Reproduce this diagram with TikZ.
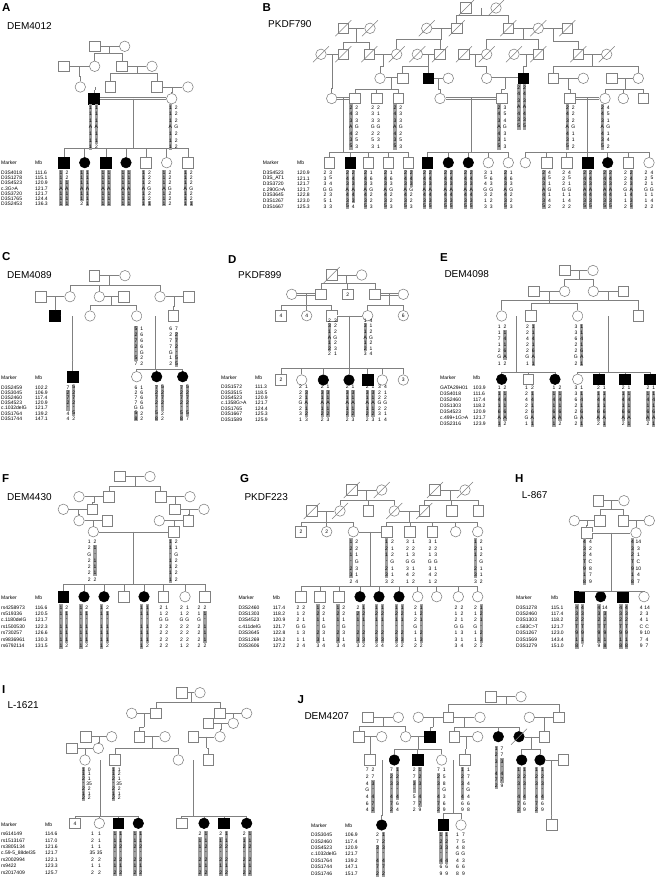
\documentclass[tikz,border=0pt]{standalone}
\usepackage{fontspec}
\setmainfont{Liberation Sans}
\usetikzlibrary{calc}

\definecolor{lc}{gray}{0.5}
\definecolor{hapbar}{gray}{0.62}
\newcommand\hfont{\fontsize{5}{5}\selectfont}

\tikzset{
  male/.style={draw=lc, line width=0.55pt, fill=white, rectangle, minimum size=10.5pt, inner sep=0pt, font=\hfont},
  female/.style={male, circle},
  amale/.style={male, fill=black, draw=black},
  afemale/.style={female, fill=black, draw=black},
  ln/.style={draw=lc, line width=0.55pt},
  dbl/.style={ln, double=white, double distance=1.3pt},
  hapt/.style={font=\hfont, inner sep=0pt},
  mkt/.style={font=\hfont, anchor=west, inner sep=0pt},
  ptitle/.style={font=\bfseries\fontsize{11.5}{12}\selectfont, anchor=north west, inner sep=0pt},
  pname/.style={font=\fontsize{10}{11}\selectfont, anchor=west, inner sep=0pt}
}

% haplotype column: x, y0, row step, first/last shaded row, values
\newcount\hapn
\newcount\hapi
\def\hg{2.9}
\makeatletter
\newcommand\hcol[6]{%
  \ifnum#4>0 \fill[hapbar] ({#1-1.7},{#2+(#4-1.5)*#3}) rectangle ({#1+1.7},{#2+(#5-0.5)*#3});\fi
  \global\advance\hapn by 1
  \hapi=0
  \@tfor\hv:=#6\do{\advance\hapi by 1
    \node[hapt] (h\the\hapn-\the\hapi) at ({#1},{#2+(\the\hapi-1)*#3}) {\hv};}%
}
\makeatother
\newcommand\hp[8]{\hcol{#1-\hg}{#2}{\hdy}{#3}{#4}{#5}\hcol{#1+\hg}{#2}{\hdy}{#6}{#7}{#8}}

% marker table: id, x, y0, step, Mb offset, list
\newcommand\mk[6]{%
  \node[mkt] (#1mh) at (#2,#3-9.5) {Marker};
  \node[mkt] (#1bh) at (#2+#5,#3-9.5) {Mb};
  \foreach \mn/\mb [count=\ri] in {#6} {
    \node[mkt] (#1m\ri) at (#2,{#3+(\ri-1)*#4}) {\mn};
    \node[mkt] (#1b\ri) at (#2+#5,{#3+(\ri-1)*#4}) {\mb};
  }}

% mating line, descent to a sibship line, deceased slash
\newcommand\mar[3][ln]{\draw[#1] (#2) -- (#3); \coordinate (#2#3) at ($(#2)!.5!(#3)$);}
\newcommand\kids[3]{\coordinate (#1s) at (#1 |- 0,#2); \draw[ln] (#1) -- (#1s);
  \foreach \ch in {#3} {\draw[ln] (\ch.north) |- (#1s);}}
\newcommand\dead[1]{\foreach \dn in {#1} {\draw[ln] ([shift={(-8,8)}]\dn.center) -- ([shift={(8,-8)}]\dn.center);}}

\begin{document}
\begin{tikzpicture}[x=1pt, y=-1pt]
\fill[white] (0,0) rectangle (656,877);
\useasboundingbox (0,0) rectangle (656,877);

% ================= A =================
\node[ptitle] (tA) at (2,3) {A};
\node[pname] (nA) at (7,26) {DEM4012};
\node[male] (a1) at (94.7,46.3) {};
\node[female] (a2) at (124.7,46.3) {};
\node[male] (a3) at (64,66.3) {};
\node[female] (a4) at (94.7,66.3) {};
\node[male] (a5) at (122,66.3) {};
\node[female] (a6) at (152,66.3) {};
\node[female] (a7) at (80.3,87) {};
\node[male] (a8) at (110.3,87) {};
\node[male] (a9) at (157,87) {};
\node[female] (a10) at (188,87) {};
\node[amale] (a11) at (94,98.7) {};
\node[female] (a12) at (171.7,98.7) {};
\foreach \nm/\xx/\st in {a13/64/amale, a14/84.7/afemale, a15/106/amale, a16/126/afemale,
  a17/146/male, a18/166.7/female, a19/188/male}
  \node[\st] (\nm) at (\xx,162.7) {};
\mar{a1}{a2} \kids{a1a2}{53.7}{a4,a5}
\mar{a3}{a4} \kids{a3a4}{76}{a7}
\mar{a5}{a6} \kids{a5a6}{73.7}{a8,a9}
\mar[dbl]{a7}{a8} \kids{a7a8}{90.5}{a11}
\mar{a9}{a10} \kids{a9a10}{92}{a12}
\mar[dbl]{a11}{a12} \kids{a11a12}{148}{a13,a14,a15,a16,a17,a18,a19}
\def\hdy{6.6}
\hp{93.5}{107.3}{1}{7}{111A111}{1}{6}{111A112}
\hp{173.3}{107.3}{1}{7}{111A111}{0}{0}{222G222}
\def\hdy{5.2}
\hp{64}{172.7}{1}{7}{111A111}{3}{7}{221A111}
\hp{84.7}{172.7}{1}{6}{111A112}{1}{7}{111A111}
\hp{106}{172.7}{1}{7}{111A111}{1}{7}{111A111}
\hp{126}{172.7}{1}{7}{111A111}{1}{7}{111A111}
\hp{146.5}{172.7}{1}{7}{111A111}{7}{7}{222G221}
\hp{167}{172.7}{1}{7}{111A111}{0}{0}{222G222}
\hp{188.3}{172.7}{1}{7}{111A111}{7}{7}{222G221}
\mk{A}{1}{172.7}{5.2}{34}{D3S4018/111.6, D3S1278/115.1, D3S4523/120.9, c.3G>A/121.7,
  D3S3720/121.7, D3S1765/124.4, D3S2453/136.3}

% ================= B =================
\node[ptitle] (tB) at (262.5,3.5) {B};
\node[pname] (nB) at (268,24) {PKDF790};
\foreach \nm/\xx/\st in {b1/466/male, b2/496/female}
  \node[\st] (\nm) at (\xx,8) {};
\foreach \nm/\xx/\st in {b3/343.3/male, b4/370/female, b5/426.7/female, b6/456.7/male,
  b7/508.3/male, b8/538.3/female, b9/567.3/male}
  \node[\st] (\nm) at (\xx,28.3) {};
\foreach \nm/\xx/\st in {b10/321/female, b11/343.3/male, b12/369.3/male, b13/396.7/female,
  b14/417.3/female, b15/440/male, b16/464/male, b17/486.7/female, b18/514/female,
  b19/538.3/male, b20/578.3/male, b21/606.7/female}
  \node[\st] (\nm) at (\xx,54.3) {};
\foreach \nm/\xx/\st in {b22/380/female, b23/402.7/male, b24/428.3/amale, b25/448.3/female,
  b26/486.7/female, b27/523.3/amale, b28/553.3/male, b29/583.3/female, b30/611.7/male,
  b31/638.3/female}
  \node[\st] (\nm) at (\xx,78.3) {};
\foreach \nm/\xx/\st in {b32/331.7/female, b33/355/male, b34/376.7/male, b35/398.3/male,
  b36/440/female, b37/501.7/male, b38/570/male, b39/605/female, b40/623.3/female,
  b41/643.3/male}
  \node[\st] (\nm) at (\xx,98.5) {};
\foreach \nm/\xx/\st in {b42/329.3/male, b43/350.3/amale, b44/368.3/male, b45/388.3/male,
  b46/408.3/male, b47/427.3/amale, b48/448.3/afemale, b49/468.3/afemale, b50/488.3/female,
  b51/508.3/female, b52/525.3/female, b53/546.7/male, b54/566.7/male, b55/587.7/amale,
  b56/607.7/afemale, b57/628.3/male, b58/649/female}
  \node[\st] (\nm) at (\xx,162.7) {};
\dead{b1,b2,b3,b4,b5,b6,b7,b8,b9,b10,b11,b12,b13,b14,b15,b16,b17,b18,b19,b20,b21}
\mar[dbl]{b1}{b2} \kids{b1b2}{15}{b6,b7}
\mar{b3}{b4} \kids{b3b4}{42.7}{b11,b12}
\mar{b5}{b6} \kids{b5b6}{39.3}{b13,b15}
\mar{b7}{b8} \kids{b7b8}{39.3}{b17,b19}
\mar{b8}{b9} \kids{b8b9}{41}{b20}
\mar{b10}{b11} \kids{b10b11}{88}{b32}
\mar{b12}{b13} \kids{b12b13}{66.7}{b22}
\mar{b14}{b15} \kids{b14b15}{66.7}{b23,b24}
\mar{b16}{b17} \kids{b16b17}{66.7}{b26}
\mar{b18}{b19} \kids{b18b19}{66.7}{b27}
\mar{b20}{b21} \kids{b20b21}{66.7}{b28,b31}
\mar[dbl]{b22}{b23} \kids{b22b23}{89.3}{b33,b34,b35}
\mar{b24}{b25} \kids{b24b25}{89.3}{b36}
\mar[dbl]{b26}{b27} \kids{b26b27}{89.3}{b37}
\mar{b28}{b29} \kids{b28b29}{89.3}{b38}
\mar{b30}{b31} \kids{b30b31}{89.3}{b39,b40,b41}
\mar[dbl]{b32}{b33} \kids{b32b33}{152.7}{b42,b43,b44,b45,b46}
\mar[dbl]{b36}{b37} \kids{b36b37}{152.7}{b47,b48,b49,b50,b51}
\mar[dbl]{b38}{b39} \kids{b38b39}{152.7}{b52,b53,b54,b55,b56,b57,b58}
\def\hdy{6.5}
\hp{521.7}{87.3}{1}{7}{243A435}{1}{7}{243A435}
\hp{353.8}{107.3}{1}{7}{243A435}{0}{0}{233G253}
\hp{375.7}{107.3}{0}{0}{233G253}{0}{0}{213G231}
\hp{397.8}{107.3}{1}{7}{243A435}{0}{0}{233G253}
\hp{502}{107.3}{1}{7}{243A435}{0}{0}{354G313}
\hp{570.3}{107.3}{1}{7}{243A435}{0}{0}{222G112}
\hp{605.3}{107.3}{1}{7}{243A435}{0}{0}{451G142}
\def\hdy{5.6}
\hp{327.8}{172.7}{0}{0}{233G253}{0}{0}{354G313}
\hp{350.3}{172.7}{1}{7}{243A435}{1}{6}{243A434}
\hp{368.3}{172.7}{1}{7}{243A435}{0}{0}{163G223}
\hp{388.3}{172.7}{1}{7}{243A435}{0}{0}{163G223}
\hp{408.3}{172.7}{1}{7}{243A435}{1}{3}{243G223}
\hp{427.3}{172.7}{1}{7}{243A435}{1}{7}{243A435}
\hp{448.3}{172.7}{1}{7}{243A435}{1}{7}{243A435}
\hp{468.3}{172.7}{1}{7}{243A435}{1}{7}{243A435}
\hp{488.3}{172.7}{0}{0}{354G313}{0}{0}{163G223}
\hp{508.3}{172.7}{1}{7}{243A435}{0}{0}{163G223}
\hp{546.7}{172.7}{1}{7}{243A435}{0}{0}{451G142}
\hp{566.7}{172.7}{0}{0}{222G112}{0}{0}{451G142}
\hp{587.7}{172.7}{1}{7}{243A435}{1}{7}{243A435}
\hp{607.7}{172.7}{1}{7}{243A435}{1}{7}{243A435}
\hp{628.3}{172.7}{0}{0}{222G112}{1}{7}{243A435}
\hp{649}{172.7}{0}{0}{222G112}{0}{0}{451G142}
\mk{B}{262.7}{172.7}{5.6}{34.3}{D3S4523/120.9, D3S\_AT1/121.1, D3S3720/121.7, c.290G>A/121.7,
  D3S3645/122.8, D3S1267/123.0, D3S1667/125.3}

% ================= C =================
\node[ptitle] (tC) at (2,252.5) {C};
\node[pname] (nC) at (7,275.5) {DEM4089};
\node[male] (c1) at (94.3,275.7) {};
\node[female] (c2) at (125,275.7) {};
\foreach \nm/\xx/\st in {c3/41/male, c4/70/female, c5/99.3/female, c6/124/male,
  c7/160/female, c8/189/male}
  \node[\st] (\nm) at (\xx,296.7) {};
\foreach \nm/\xx/\st in {c9/55/amale, c10/90/female, c11/136.7/female, c12/173.3/male}
  \node[\st] (\nm) at (\xx,316) {};
\foreach \nm/\xx/\st in {c13/72.7/amale, c14/136.7/female, c15/156.7/afemale, c16/182.7/afemale}
  \node[\st] (\nm) at (\xx,376.7) {};
\mar{c1}{c2} \kids{c1c2}{285}{c4,c5,c7}
\mar{c3}{c4} \kids{c3c4}{306}{c9}
\mar{c5}{c6} \kids{c5c6}{305.5}{c10,c11}
\mar{c7}{c8} \kids{c7c8}{306}{c12}
\mar[dbl]{c9}{c10} \kids{c9c10}{360}{c13}
\mar[dbl]{c11}{c12} \kids{c11c12}{369.3}{c14,c15,c16}
\def\hdy{5.9}
\hp{138.8}{328.7}{1}{6}{5272-57}{0}{0}{1666G22}
\hp{173.7}{328.7}{0}{0}{6277G12}{2}{7}{7272-55}
\def\hdy{5.2}
\hp{70.8}{387.3}{2}{5}{7272-44}{1}{6}{5272-52}
\hp{138.8}{387.3}{6}{7}{6277G58}{0}{0}{1666G22}
\hp{159.5}{387.3}{1}{7}{7272-58}{1}{5}{5272-22}
\hp{184.5}{387.3}{1}{7}{7272-58}{1}{6}{5272-57}
\mk{C}{1}{387.3}{5.2}{34}{D3S2459/102.2, D3S3045/106.9, D3S2460/117.4, D3S4523/120.9,
  c.1032delG/121.7, D3S1764/139.2, D3S1744/147.1}

% ================= D =================
\node[ptitle] (tD) at (228,255) {D};
\node[pname] (nD) at (238,275.5) {PKDF899};
\node[male] (d1) at (331.7,275) {};
\node[female] (d2) at (361.7,275) {};
\node[female] (d3) at (291.7,294.3) {};
\node[male] (d4) at (321,294.3) {};
\node[male] (d5) at (347.7,294.3) {2};
\node[male] (d6) at (375,294.3) {};
\node[female] (d7) at (403.3,294.3) {};
\node[male] (d8) at (281,315.7) {4};
\node[female] (d9) at (306.7,315.7) {4};
\node[male] (d10) at (331.7,315.7) {};
\node[female] (d11) at (367.7,315.7) {};
\node[female] (d12) at (403.3,315.7) {6};
\node[male] (d13) at (281,380) {2};
\node[female] (d14) at (301.7,380) {};
\node[afemale] (d15) at (323.3,380) {};
\node[afemale] (d16) at (349,380) {};
\node[amale] (d17) at (367.7,380) {};
\node[female] (d18) at (382.3,380) {};
\node[female] (d19) at (403.3,380) {3};
\dead{d1}
\mar{d1}{d2} \kids{d1d2}{283.3}{d4,d5,d6}
\mar[dbl]{d3}{d4} \kids{d3d4}{305}{d8,d9,d10}
\mar[dbl]{d6}{d7} \kids{d6d7}{305}{d11,d12}
\mar[dbl]{d10}{d11} \kids{d10d11}{368.3}{d13,d14,d15,d16,d17,d18,d19}
\def\hdy{5.55}
\hp{332.5}{320.7}{2}{6}{231A122}{0}{0}{322G231}
\hp{368.2}{320.7}{2}{6}{131A123}{0}{0}{412G214}
\def\hdy{5.4}
\hp{303.5}{387}{0}{0}{222G231}{2}{6}{131A123}
\hp{325.2}{387}{2}{6}{231A122}{2}{6}{131A123}
\hp{350.2}{387}{2}{6}{231A122}{2}{6}{131A123}
\hp{370.2}{387}{2}{6}{231A122}{2}{6}{131A123}
\hp{382.5}{387}{0}{0}{322G231}{0}{0}{412G214}
\mk{D}{221}{387}{5.4}{34}{D3S1572/111.3, D3S3515/118.5, D3S4523/120.9, c.1358G>A/121.7,
  D3S1765/124.4, D3S1667/125.3, D3S1589/125.9}

% ================= E =================
\node[ptitle] (tE) at (440,253) {E};
\node[pname] (nE) at (444.3,274.5) {DEM4098};
\node[male] (e1) at (564.7,270.5) {};
\node[female] (e2) at (593,270.5) {};
\foreach \nm/\xx/\st in {e3/533.7/male, e4/564.7/female, e5/593.3/female, e6/623.3/male}
  \node[\st] (\nm) at (\xx,291.3) {};
\foreach \nm/\xx/\st in {e7/501.7/female, e8/531/male, e9/577.7/female, e10/638.3/male}
  \node[\st] (\nm) at (\xx,316) {};
\foreach \nm/\xx/\st in {e11/501.7/afemale, e12/528.3/male, e13/555/afemale, e14/577.7/female,
  e15/599/amale, e16/625/amale, e17/650/amale}
  \node[\st] (\nm) at (\xx,379.3) {};
\mar{e1}{e2} \kids{e1e2}{279}{e4,e5}
\mar{e3}{e4} \kids{e3e4}{303}{e8,e9}
\mar{e5}{e6} \kids{e5e6}{300.7}{e7,e10}
\mar[dbl]{e7}{e8} \kids{e7e8}{372}{e11,e12,e13}
\mar[dbl]{e9}{e10} \kids{e9e10}{372}{e14,e15,e16,e17}
\def\hdy{6.1}
\hp{502.2}{326.7}{0}{0}{11712G1}{2}{6}{21416A2}
\hp{530.3}{326.7}{0}{0}{22422G1}{1}{7}{11416A1}
\hp{578.8}{326.7}{0}{0}{33622G2}{1}{7}{11416A1}
\def\hdy{6.05}
\hp{502.2}{387.7}{2}{7}{11416A1}{2}{6}{21416A2}
\hp{529.5}{387.7}{0}{0}{12422G1}{2}{7}{21416A1}
\hp{557}{387.7}{2}{7}{11416A1}{2}{6}{21416A2}
\hp{578.8}{387.7}{0}{0}{33622G2}{2}{7}{11416A1}
\hp{601.3}{387.7}{2}{6}{21416A2}{2}{7}{11416A1}
\hp{626.2}{387.7}{2}{6}{21416A2}{2}{7}{11416A1}
\hp{650.8}{387.7}{2}{6}{21416A2}{2}{7}{11416A1}
\mk{E}{440}{387.7}{6.05}{33}{GATA29H01/103.9, D3S4018/111.6, D3S2460/117.4, D3S1303/118.2,
  D3S4523/120.9, c.499+1G>A/121.7, D3S2316/123.9}

% ================= F =================
\node[ptitle] (tF) at (2,474.5) {F};
\node[pname] (nF) at (7,497) {DEM4430};
\node[male] (f1) at (120,476.5) {};
\node[female] (f2) at (150,476.5) {};
\foreach \nm/\xx/\st in {f3/79/female, f4/109/male, f5/160.7/male, f6/190/female}
  \node[\st] (\nm) at (\xx,496.7) {};
\foreach \nm/\xx/\st in {f7/63.3/female, f8/92.3/male, f9/175/male, f10/204/female}
  \node[\st] (\nm) at (\xx,509.3) {};
\foreach \nm/\xx/\st in {f11/79/female, f12/107.3/male, f13/159.3/female, f14/188.3/male}
  \node[\st] (\nm) at (\xx,520.7) {};
\node[female] (f15) at (93.3,531.7) {};
\node[male] (f16) at (174,531.7) {};
\foreach \nm/\xx/\st in {f17/63.3/amale, f18/84/afemale, f19/104/afemale, f20/124/male,
  f21/144/afemale, f22/163.3/male, f23/185/female, f24/205/male}
  \node[\st] (\nm) at (\xx,596.7) {};
\mar{f1}{f2} \kids{f1f2}{486}{f4,f5}
\mar{f3}{f4} \kids{f3f4}{502.5}{f8}
\mar{f5}{f6} \kids{f5f6}{502.5}{f9}
\mar{f7}{f8} \kids{f7f8}{514}{f11}
\mar{f9}{f10} \kids{f9f10}{514}{f14}
\mar{f11}{f12} \kids{f11f12}{525.5}{f15}
\mar{f13}{f14} \kids{f13f14}{525.5}{f16}
\mar[dbl]{f15}{f16} \kids{f15f16}{584}{f17,f18,f19,f20,f21,f22,f23,f24}
\def\hdy{6.3}
\hp{92.2}{541.7}{0}{0}{12G2222}{2}{6}{21-1112}
\hp{173.3}{541.7}{1}{7}{11-1111}{0}{0}{21G2222}
\def\hdy{6.4}
\hp{63.8}{607.3}{1}{7}{11-1111}{2}{6}{21-1112}
\hp{83.8}{607.3}{1}{7}{11-1111}{2}{6}{21-1112}
\hp{104.5}{607.3}{1}{7}{11-1111}{2}{6}{21-1112}
\hp{144.5}{607.3}{1}{7}{11-1111}{1}{6}{11-1112}
\hp{163.8}{607.3}{0}{0}{21G2222}{0}{0}{12G2222}
\hp{184.5}{607.3}{0}{0}{21G2221}{0}{0}{12G2222}
\hp{202}{607.3}{0}{0}{21G2222}{2}{6}{21-1112}
\mk{F}{1}{607.3}{6.4}{34}{rs4258973/116.6, rs519336/120.5, c.1180delG/121.7, rs1500530/122.3,
  rs730257/126.6, rs9836961/130.3, rs6792114/131.5}

% ================= G =================
\node[ptitle] (tG) at (240,474.5) {G};
\node[pname] (nG) at (244.3,497) {PKDF223};
\foreach \nm/\xx/\st in {g1/351.7/male, g2/381.7/female, g3/435/male, g4/465/female}
  \node[\st] (\nm) at (\xx,490) {};
\foreach \nm/\xx/\st in {g5/311.7/male, g6/340/female, g7/368.3/male, g8/394.3/female,
  g9/424.3/male, g10/451.7/male, g11/478.3/male}
  \node[\st] (\nm) at (\xx,511) {};
\node[male] (g12) at (301,531.7) {2};
\node[female] (g13) at (326.7,531.7) {2};
\foreach \nm/\xx/\st in {g14/353.3/female, g15/386.7/male, g16/410/male, g17/432.3/male,
  g18/455.7/female, g19/477.7/female}
  \node[\st] (\nm) at (\xx,531.7) {};
\foreach \nm/\xx/\st in {g20/301/male, g21/320/male, g22/339/male, g23/360/afemale,
  g24/379/afemale, g25/399/afemale, g26/417.7/female, g27/436.7/female, g28/458.3/female,
  g29/477.7/female}
  \node[\st] (\nm) at (\xx,596.7) {};
\dead{g1,g2,g3,g4,g5,g6,g8,g9}
\mar{g1}{g2} \kids{g1g2}{500.5}{g6,g7,g8}
\mar{g3}{g4} \kids{g3g4}{500.5}{g9,g10,g11}
\mar{g5}{g6} \kids{g5g6}{522}{g12,g13,g14}
\mar{g8}{g9} \kids{g8g9}{522}{g15,g16,g17,g18,g19}
\mar[dbl]{g14}{g15} \kids{g14g15}{586}{g20,g21,g22,g23,g24,g25,g26,g27,g28,g29}
\def\hdy{6.67}
\hp{353.8}{541.7}{1}{6}{121-232}{0}{0}{221G314}
\hp{389.5}{541.7}{1}{6}{121-233}{0}{0}{212G112}
\hp{410.5}{541.7}{0}{0}{321G341}{0}{0}{123G122}
\hp{432.8}{541.7}{0}{0}{321G341}{0}{0}{123G122}
\hp{478.3}{541.7}{1}{6}{121-233}{0}{0}{212G112}
\def\hdy{6.4}
\hp{300.8}{607.3}{0}{0}{212G112}{0}{0}{221G314}
\hp{320.8}{607.3}{1}{6}{121-233}{0}{0}{221G314}
\hp{340.8}{607.3}{1}{6}{121-233}{0}{0}{221G314}
\hp{360.8}{607.3}{2}{6}{221-233}{1}{6}{121-232}
\hp{379.5}{607.3}{1}{6}{121-233}{1}{6}{121-234}
\hp{399.3}{607.3}{1}{6}{121-233}{1}{6}{121-232}
\hp{418.3}{607.3}{0}{0}{212G112}{1}{6}{121-232}
\hp{459}{607.3}{0}{0}{212G133}{0}{0}{221G314}
\hp{478.3}{607.3}{0}{0}{212G112}{1}{6}{121-232}
\mk{G}{238.3}{607.3}{6.4}{34.4}{D3S2460/117.4, D3S1303/118.2, D3S4523/120.9, c.411delG/121.7,
  D3S3645/122.8, D3S1269/124.2, D3S3606/127.2}

% ================= H =================
\node[ptitle] (tH) at (515,474.5) {H};
\node[pname] (nH) at (521.7,495.5) {L-867};
\node[male] (h1) at (598.3,500.7) {};
\node[female] (h2) at (624,500.7) {};
\foreach \nm/\xx/\st in {h3/574.3/female, h4/600/male, h5/623.3/male, h6/649.3/female}
  \node[\st] (\nm) at (\xx,520.7) {};
\node[male] (h7) at (586.7,532.7) {};
\node[female] (h8) at (636,532.7) {};
\foreach \nm/\xx/\st in {h9/579.3/amale, h10/600.7/afemale, h11/622.7/amale, h12/644/female}
  \node[\st] (\nm) at (\xx,596.7) {};
\mar{h1}{h2} \kids{h1h2}{509}{h4,h5}
\mar{h3}{h4} \kids{h3h4}{525}{h7}
\mar{h5}{h6} \kids{h5h6}{525}{h8}
\mar[dbl]{h7}{h8} \kids{h7h8}{591.7}{h9,h10,h11,h12}
\def\hdy{6.67}
\hp{587.5}{541.7}{1}{7}{432T918}{0}{0}{424C879}
\hp{635.5}{541.7}{1}{7}{432T918}{0}{0}{{14}31C{10}47}
\def\hdy{6.4}
\hp{579.7}{607.3}{1}{7}{432T918}{1}{6}{432T917}
\hp{602}{607.3}{1}{6}{432T919}{2}{7}{{14}32T918}
\hp{623.7}{607.3}{1}{7}{432T918}{1}{7}{432T918}
\hp{644.2}{607.3}{0}{0}{424C979}{0}{0}{{14}31C{10}47}
\mk{H}{516}{607.3}{6.4}{35}{D3S1278/115.1, D3S2460/117.4, D3S1303/118.2, c.583C>T/121.7,
  D3S1267/123.0, D3S1569/143.4, D3S1279/151.0}

% ================= I =================
\node[ptitle] (tI) at (2,685) {I};
\node[pname] (nI) at (7.3,705) {L-1621};
\node[male] (i1) at (181.7,692.7) {};
\node[female] (i2) at (200,692.7) {};
\foreach \nm/\xx/\st in {i3/131.7/female, i4/156/male, i5/220/male, i6/246.7/female}
  \node[\st] (\nm) at (\xx,713.3) {};
\node[male] (i7) at (208.3,723.3) {};
\node[female] (i8) at (233.3,723.3) {};
\foreach \nm/\xx/\st in {i9/86/male, i10/111.7/female, i11/139.3/male, i12/165/female,
  i13/193.3/male, i14/220/female}
  \node[\st] (\nm) at (\xx,736.7) {};
\node[male] (i15) at (71.7,748.3) {};
\node[female] (i16) at (98.3,748.3) {};
\foreach \nm/\xx/\st in {i17/85/female, i18/115/male, i19/178.3/female, i20/208.3/male}
  \node[\st] (\nm) at (\xx,760) {};
\node[male] (i21) at (75,823.3) {4};
\foreach \nm/\xx/\st in {i22/99.3/female, i23/118.3/amale, i24/138.3/afemale, i25/181.7/male,
  i26/204/afemale, i27/224/amale, i28/246.7/afemale}
  \node[\st] (\nm) at (\xx,823.3) {};
\mar{i1}{i2} \kids{i1i2}{702}{i4,i5}
\mar{i3}{i4} \kids{i3i4}{727}{i11}
\mar{i5}{i6} \kids{i5i6}{716}{i8}
\mar{i7}{i8} \kids{i7i8}{729.5}{i14}
\mar{i9}{i10} \kids{i9i10}{742.5}{i16}
\mar{i11}{i12} \kids{i11i12}{748.3}{i18,i19}
\mar[dbl]{i13}{i14} \kids{i13i14}{748.3}{i20}
\mar{i15}{i16} \kids{i15i16}{754}{i17}
\mar[dbl]{i17}{i18} \kids{i17i18}{816.7}{i21,i22,i23,i24}
\mar[dbl]{i19}{i20} \kids{i19i20}{816.7}{i25,i26,i27,i28}
\def\hdy{4.8}
\hp{86.3}{769.3}{1}{7}{112-212}{0}{0}{011{35}212}
\hp{116.3}{769.3}{1}{7}{112-212}{0}{0}{121{35}212}
\def\hdy{6.4}
\def\hg{3.6}
\hp{96}{834}{0}{0}{121{35}212}{0}{0}{111{35}212}
\def\hg{2.9}
\hp{117.8}{834}{1}{7}{112-212}{1}{7}{112-212}
\hp{137.8}{834}{1}{7}{112-212}{1}{7}{112-212}
\hp{203}{834}{2}{7}{211-212}{1}{7}{112-212}
\hp{223.7}{834}{2}{7}{212-212}{1}{7}{112-212}
\hp{247.2}{834}{2}{7}{212-212}{1}{7}{112-212}
\mk{I}{1}{834}{6.4}{44}{rs614149/114.6, rs1513167/117.0, rs3805134/121.6,
  c.59-5\_88del35/121.7, rs2002994/122.1, rs9422/123.3, rs2017409/125.7}

% ================= J =================
\node[ptitle] (tJ) at (297.5,695) {J};
\node[pname] (nJ) at (304.3,716) {DEM4207};
\node[male] (j1) at (491,696.7) {};
\node[female] (j2) at (521,696.7) {};
\foreach \nm/\xx/\st in {j3/367.7/male, j4/398.3/female, j5/418.3/female, j6/448.3/male,
  j7/480/female, j8/529.3/female, j9/559/male}
  \node[\st] (\nm) at (\xx,717.3) {};
\foreach \nm/\xx/\st in {j10/359/male, j11/381.7/female, j12/405.7/female, j13/430/amale,
  j14/454.3/male, j15/477.7/female, j16/498.3/afemale, j17/519/afemale, j18/544.3/male}
  \node[\st] (\nm) at (\xx,736.7) {};
\foreach \nm/\xx/\st in {j19/370/male, j20/394.3/afemale, j21/417.7/amale, j22/441.7/female,
  j23/465/male, j24/521.7/afemale, j25/540/afemale, j26/563.3/male}
  \node[\st] (\nm) at (\xx,760) {};
\foreach \nm/\xx/\st in {j27/381.7/afemale, j28/443.3/amale, j29/461/female, j30/551.7/male}
  \node[\st] (\nm) at (\xx,825) {};
\dead{j17}
\mar{j1}{j2} \kids{j1j2}{704}{j6,j9}
\mar{j3}{j4} \kids{j3j4}{726}{j10,j12}
\mar{j5}{j6} \kids{j5j6}{727}{j13}
\mar{j6}{j7} \kids{j6j7}{727.3}{j14,j16,j17}
\mar{j8}{j9} \kids{j8j9}{727}{j18}
\mar{j10}{j11} \kids{j10j11}{749}{j19}
\mar{j12}{j13} \kids{j12j13}{749.3}{j20,j21,j22}
\mar{j14}{j15} \kids{j14j15}{749}{j23}
\mar[dbl]{j17}{j18} \kids{j17j18}{749.3}{j24,j25}
\mar[dbl]{j19}{j20} \kids{j19j20}{815}{j27}
\mar[dbl]{j22}{j23} \kids{j22j23}{813.3}{j28,j29}
\mar{j25}{j26} \kids{j25j26}{815}{j30}
\def\hdy{6.2}
\hp{499.2}{749}{1}{7}{123-472}{3}{6}{773-479}
\def\hdy{6.67}
\hp{370.2}{770}{0}{0}{724G464}{3}{7}{273-472}
\hp{394.5}{770}{2}{7}{723-472}{1}{5}{123-464}
\hp{417.2}{770}{3}{4}{273-572}{1}{6}{123-479}
\hp{441.3}{770}{2}{7}{723-472}{0}{0}{158G369}
\hp{465.5}{770}{1}{5}{123-469}{0}{0}{174G468}
\hp{521.7}{770}{1}{7}{123-472}{1}{5}{123-469}
\hp{539.5}{770}{1}{7}{123-472}{1}{5}{123-469}
\def\hdy{6.4}
\hp{380.5}{835}{3}{7}{273-472}{1}{7}{123-472}
\hp{443.8}{835}{1}{5}{123-469}{1}{5}{123-469}
\hp{460.5}{835}{0}{0}{174G468}{0}{0}{758G369}
\mk{J}{311}{835}{6.4}{34}{D3S3045/106.9, D3S2460/117.4, D3S4523/120.9, c.1032delG/121.7,
  D3S1764/139.2, D3S1744/147.1, D3S1746/151.7}
\end{tikzpicture}
\end{document}
